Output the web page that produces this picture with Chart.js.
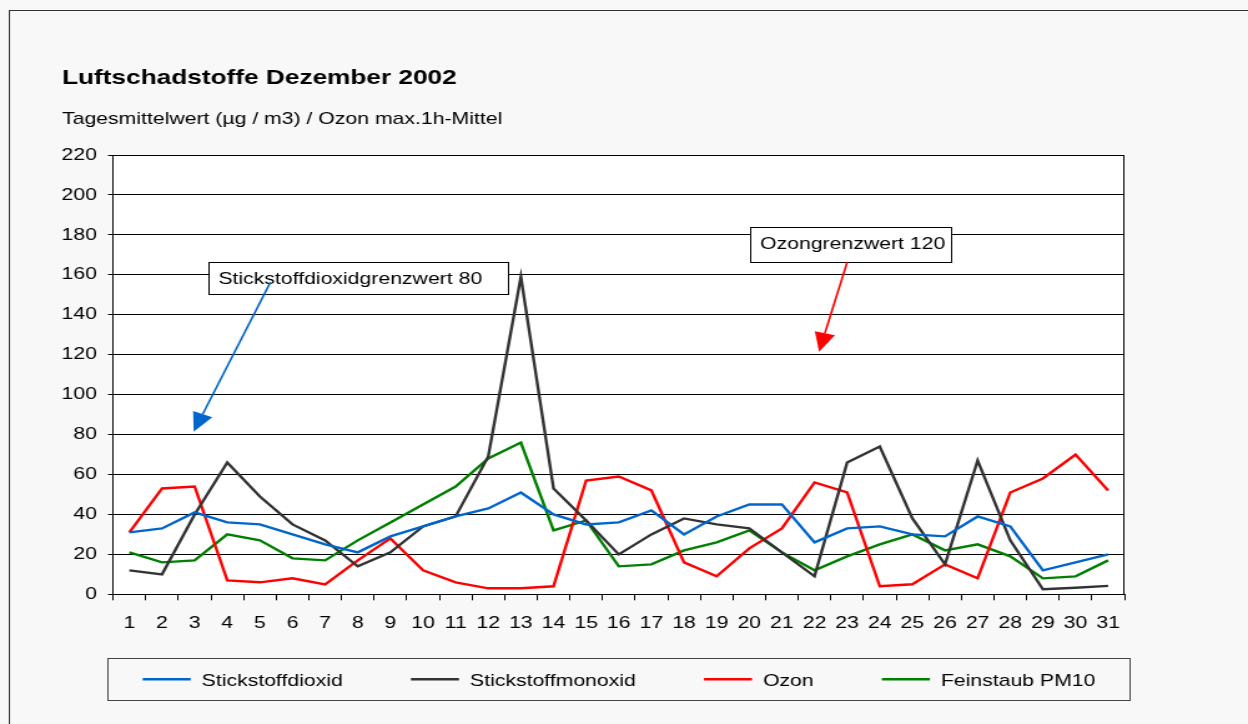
<!DOCTYPE html>
<html>
<head>
<meta charset="utf-8">
<title>Luftschadstoffe Dezember 2002</title>
<script src="https://cdn.jsdelivr.net/npm/chart.js@4.4.1/dist/chart.umd.min.js"></script>
<style>
  html, body { margin: 0; padding: 0; background: #f8f8f8; overflow: hidden; }
  #chart { display: block; }
</style>
</head>
<body>
<!-- the original picture is stretched sideways, so the canvas is too -->
<canvas id="chart" width="1000" height="724" style="width:1248px;height:724px"></canvas>
<script>
var days = ['1','2','3','4','5','6','7','8','9','10','11','12','13','14','15','16',
            '17','18','19','20','21','22','23','24','25','26','27','28','29','30','31'];
var stickstoffdioxid = [31,33,41,36,35,30,25,21,29,34,39,43,51,40,35,36,42,30,39,45,45,26,33,34,30,29,39,34,12,16,20];
var stickstoffmonoxid = [12,10,40,66,49,35,27,14,21,34,39,69,159,53,37,20,30,38,35,33,21,9,66,74,38,15,67,27,2.5,3.3,4.2];
var ozon = [31,53,54,7,6,8,5,17,28,12,6,3,3,4,57,59,52,16,9,23,33,56,51,4,5,15,8,51,58,70,52];
var feinstaub = [21,16,17,30,27,18,17,27,36,45,54,68,76,32,37,14,15,22,26,32,21,12,19,25,30,22,25,19,8,9,17];
var yTicks = [0,20,40,60,80,100,120,140,160,180,200,220];

// annotation boxes: [day index left, value top, day index right, value bottom]
var limitNotes = [
  {text: 'Stickstoffdioxidgrenzwert 80', color: '#0066cc', box: [2.44, 166.6, 11.61, 150.5], from: [4.32, 156.2], to: [1.97, 81.4]},
  {text: 'Ozongrenzwert 120', color: '#ff0000', box: [19.04, 183.8, 25.18, 166.3], from: [22.0, 166.3], to: [21.14, 121.5]}
];

(function(){
	"use strict";
	var FONT = '"Liberation Sans", Arial, sans-serif';
	var canvas = document.getElementById('chart');

	function arrow(ctx, x1, y1, x2, y2, color){
		var ang = Math.atan2(y2 - y1, x2 - x1), len = 19, half = 8.3;
		var bx = x2 - len * Math.cos(ang), by = y2 - len * Math.sin(ang);
		ctx.strokeStyle = color;
		ctx.lineWidth = 1.6;
		ctx.beginPath();
		ctx.moveTo(x1, y1);
		ctx.lineTo(bx, by);
		ctx.stroke();
		ctx.fillStyle = color;
		ctx.beginPath();
		ctx.moveTo(x2, y2);
		ctx.lineTo(bx + half * Math.sin(ang), by - half * Math.cos(ang));
		ctx.lineTo(bx - half * Math.sin(ang), by + half * Math.cos(ang));
		ctx.closePath();
		ctx.fill();
	}

	var decor = {
		id: 'decor',
		beforeDraw: function(chart){
			var ctx = chart.ctx, a = chart.chartArea;
			ctx.save();
			ctx.fillStyle = '#f8f8f8';
			ctx.fillRect(0, 0, chart.width, chart.height);
			ctx.strokeStyle = '#333';
			ctx.lineWidth = 1;
			ctx.strokeRect(7.5, 10.5, chart.width + 50, chart.height + 50);
			ctx.fillStyle = '#fff';
			ctx.fillRect(a.left, a.top, a.right - a.left, a.bottom - a.top);
			ctx.restore();
		},
		afterDatasetsDraw: function(chart){
			var ctx = chart.ctx, a = chart.chartArea;
			var xs = chart.scales.x, ys = chart.scales.y;
			ctx.save();
			// top and right border of the plot
			ctx.strokeStyle = '#000';
			ctx.lineWidth = 1;
			ctx.beginPath();
			ctx.moveTo(a.left, Math.round(a.top) + 0.5);
			ctx.lineTo(Math.round(a.right) - 0.5, Math.round(a.top) + 0.5);
			ctx.lineTo(Math.round(a.right) - 0.5, a.bottom);
			ctx.stroke();

			ctx.font = '17px ' + FONT;
			ctx.textBaseline = 'alphabetic';
			limitNotes.forEach(function(n){
				var x1 = Math.round(xs.getPixelForValue(n.box[0])) + 0.5;
				var y1 = Math.round(ys.getPixelForValue(n.box[1])) + 0.5;
				var x2 = Math.round(xs.getPixelForValue(n.box[2])) + 0.5;
				var y2 = Math.round(ys.getPixelForValue(n.box[3])) + 0.5;
				ctx.fillStyle = '#fff';
				ctx.fillRect(x1, y1, x2 - x1, y2 - y1);
				ctx.strokeStyle = '#000';
				ctx.lineWidth = 1;
				ctx.strokeRect(x1, y1, x2 - x1, y2 - y1);
				ctx.fillStyle = '#000';
				ctx.fillText(n.text, x1 + 7.5, y1 + 21);
				arrow(ctx, xs.getPixelForValue(n.from[0]), ys.getPixelForValue(n.from[1]),
					xs.getPixelForValue(n.to[0]), ys.getPixelForValue(n.to[1]), n.color);
			});
			ctx.restore();
		},
		afterDraw: function(chart){
			var ctx = chart.ctx;
			ctx.save();
			ctx.fillStyle = '#000';
			ctx.textBaseline = 'alphabetic';
			ctx.font = 'bold 21px ' + FONT;
			ctx.fillText('Luftschadstoffe Dezember 2002', 49.7, 84);
			ctx.font = '17px ' + FONT;
			ctx.fillText('Tagesmittelwert (\u00b5g / m3) / Ozon max.1h-Mittel', 49.7, 124);

			// legend with frame
			ctx.strokeStyle = '#444';
			ctx.lineWidth = 1;
			ctx.strokeRect(86.5, 658.5, 819, 42);
			var sets = chart.data.datasets;
			var widths = sets.map(function(d){ return ctx.measureText(d.label).width; });
			var total = widths.reduce(function(s, w){ return s + w + 47.3; }, 0) + 54.6 * (sets.length - 1);
			var x = 496 - total / 2;
			sets.forEach(function(d, i){
				ctx.fillStyle = d.borderColor;
				ctx.fillRect(x, 678, 38.5, 2.5);
				ctx.fillStyle = '#000';
				ctx.fillText(d.label, x + 47.3, 686);
				x += 47.3 + widths[i] + 54.6;
			});
			ctx.restore();
		}
	};

	var tickFont = {family: FONT, size: 17};

	new Chart(canvas, {
		type: 'line',
		data: {
			labels: days,
			datasets: [
				{label: 'Stickstoffdioxid', data: stickstoffdioxid, borderColor: '#0066cc', backgroundColor: '#0066cc'},
				{label: 'Stickstoffmonoxid', data: stickstoffmonoxid, borderColor: '#333333', backgroundColor: '#333333'},
				{label: 'Ozon', data: ozon, borderColor: '#ff0000', backgroundColor: '#ff0000'},
				{label: 'Feinstaub PM10', data: feinstaub, borderColor: '#008000', backgroundColor: '#008000'}
			]
		},
		options: {
			responsive: false,
			devicePixelRatio: 1,
			animation: false,
			layout: {padding: {left: 0, right: 99, top: 155, bottom: 0}},
			elements: {
				point: {radius: 0, hoverRadius: 0},
				line: {tension: 0, borderWidth: 2.4, fill: false}
			},
			plugins: {
				legend: {display: false},
				title: {display: false},
				tooltip: {enabled: false}
			},
			scales: {
				x: {
					offset: true,
					grid: {offset: true, drawOnChartArea: false, drawTicks: true, tickLength: 6, color: '#000'},
					border: {color: '#000', width: 1},
					ticks: {color: '#000', font: tickFont, padding: 13, maxRotation: 0, autoSkip: false},
					afterFit: function(s){ s.height = 724 - 594.3; }
				},
				y: {
					min: yTicks[0],
					max: yTicks[yTicks.length - 1],
					grid: {color: '#000', lineWidth: 1, tickLength: 4},
					border: {color: '#000', width: 1},
					ticks: {stepSize: 20, color: '#000', font: tickFont, padding: 9},
					afterFit: function(s){ s.width = 90.6; }
				}
			}
		},
		plugins: [decor]
	});
	// keep the sideways stretch of the reference
	canvas.style.width = '1248px';
	canvas.style.height = '724px';
})();
</script>
</body>
</html>
